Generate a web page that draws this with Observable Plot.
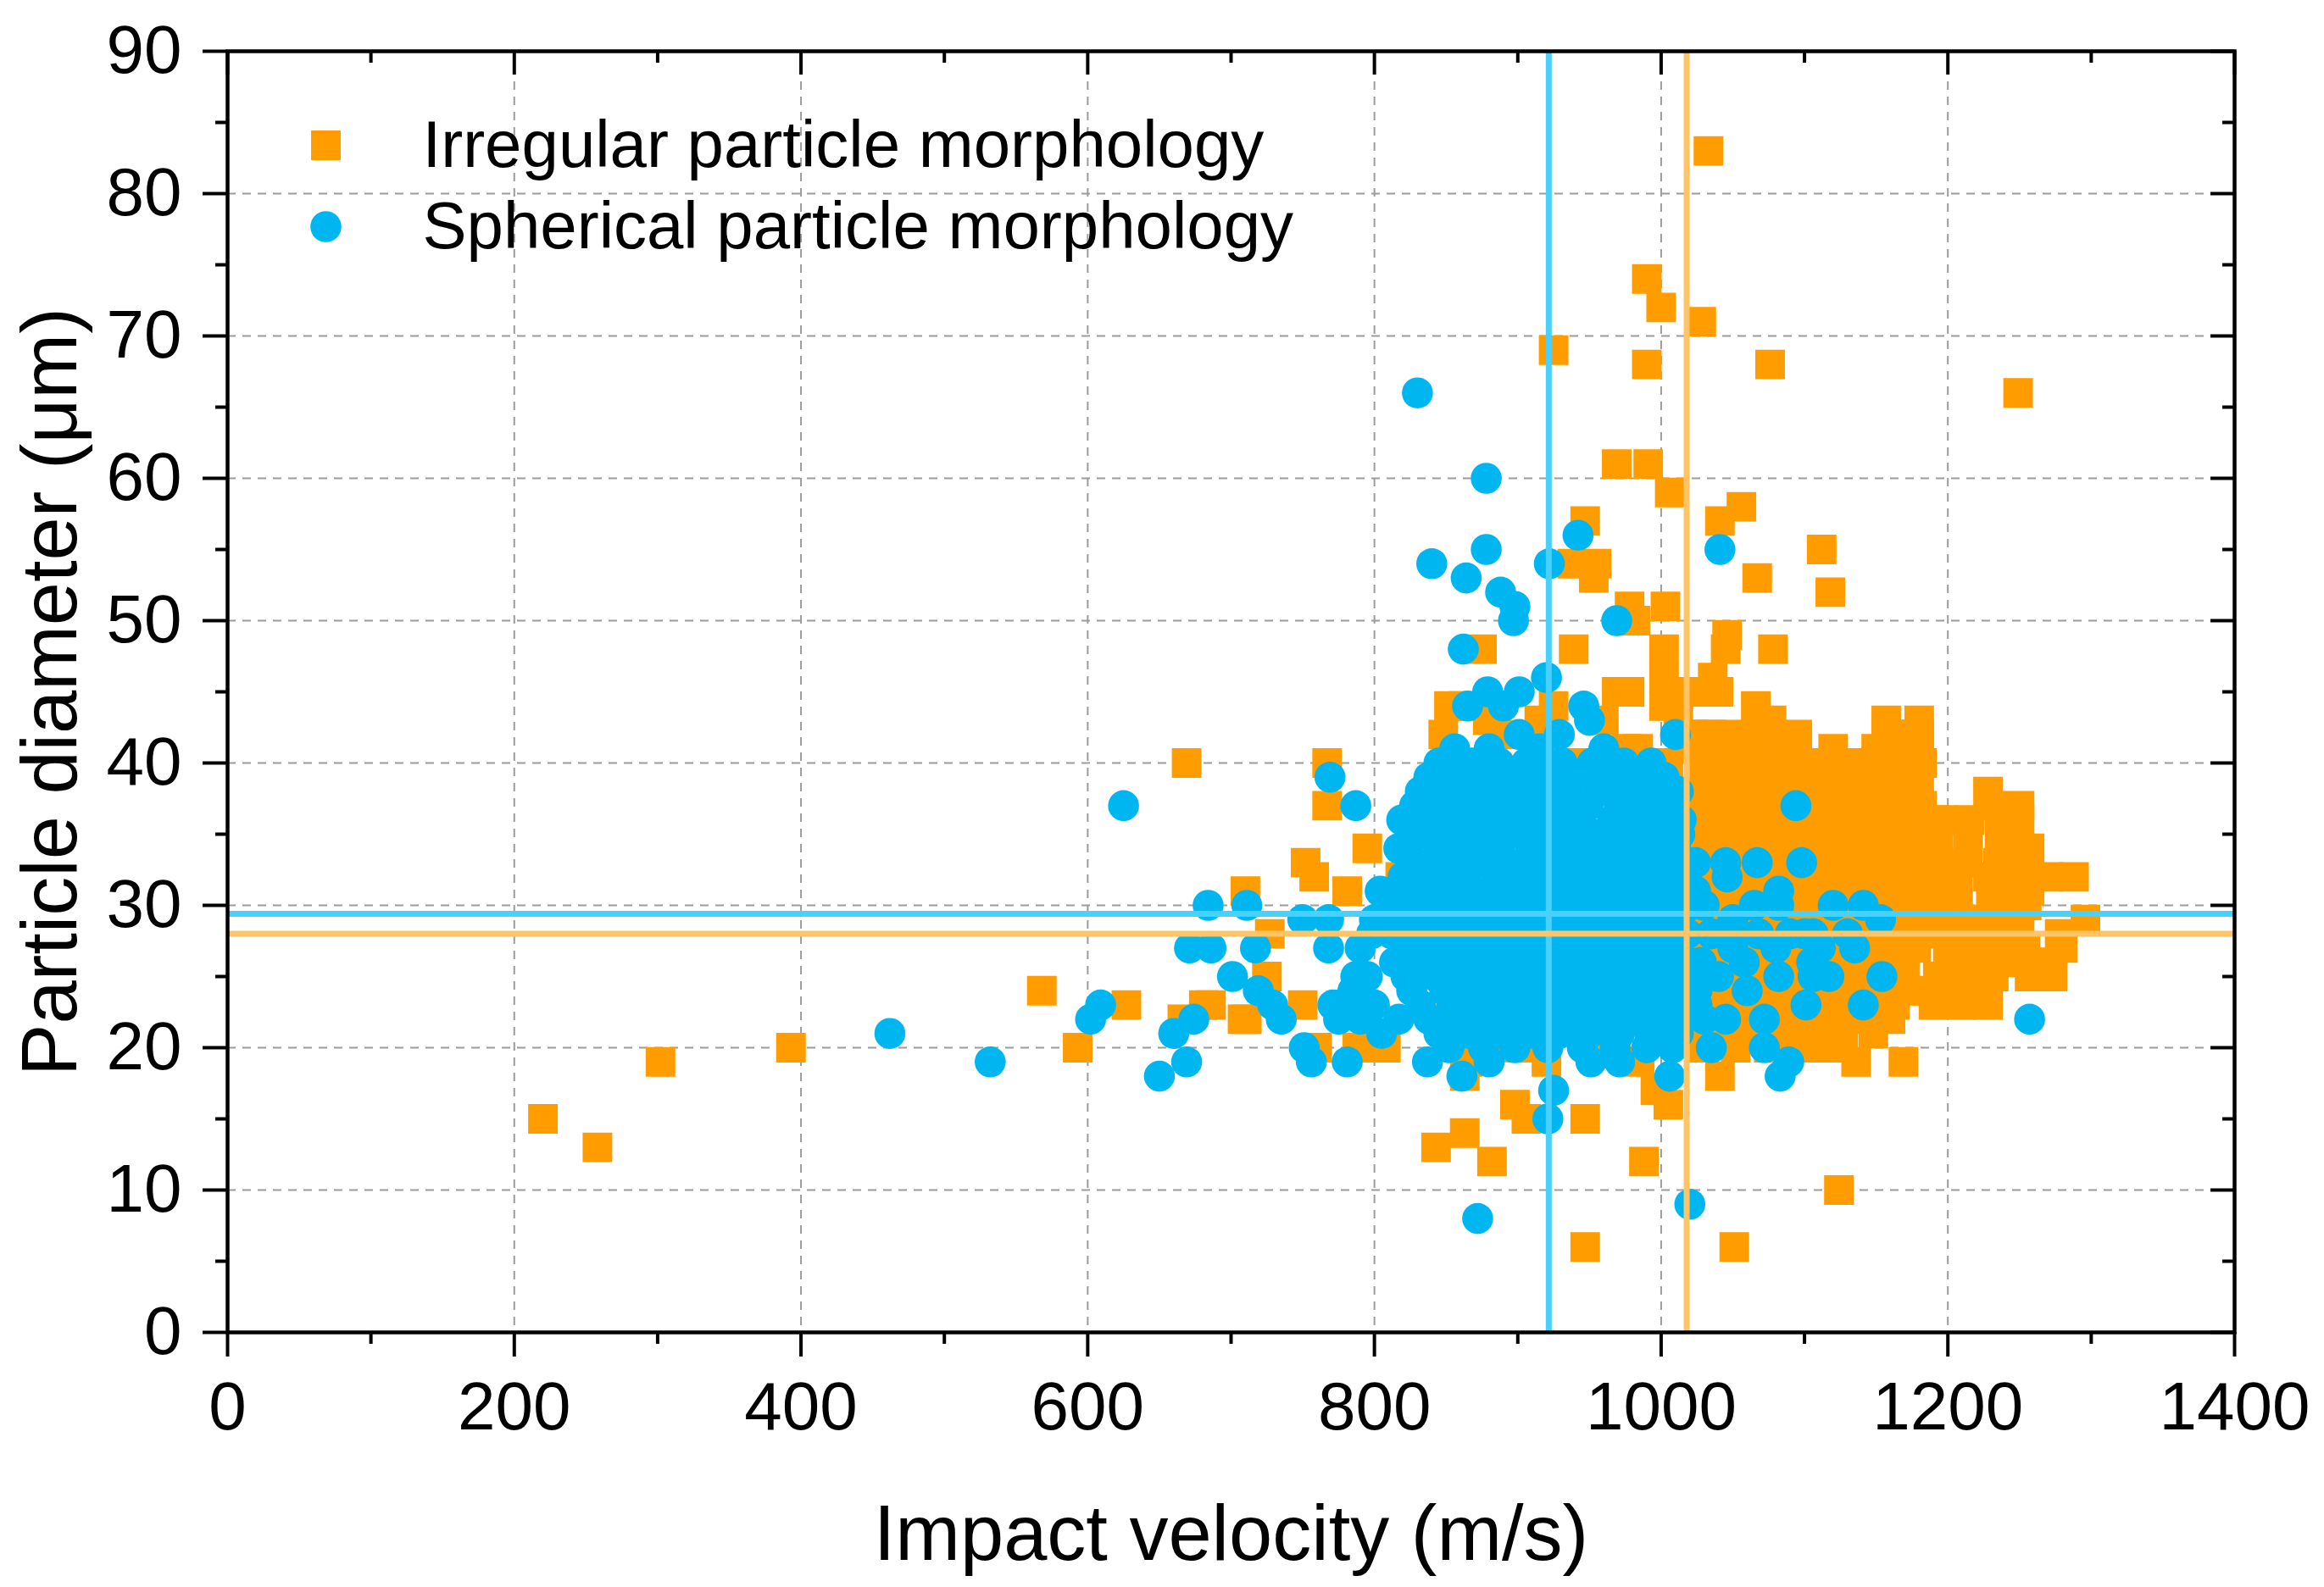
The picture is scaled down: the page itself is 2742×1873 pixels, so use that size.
<!DOCTYPE html>
<html><head><meta charset="utf-8">
<script src="https://cdn.jsdelivr.net/npm/d3@7"></script>
<script src="https://cdn.jsdelivr.net/npm/@observablehq/plot@0.6"></script>
<style>html,body{margin:0;padding:0;background:#fff;} svg{display:block}</style>
</head><body><div id="chart"></div>
<script>
// ---- tick values ----
const xTicks = [0, 200, 400, 600, 800, 1000, 1200, 1400];
const xMinor = [100, 300, 500, 700, 900, 1100, 1300];
const yTicks = [0, 10, 20, 30, 40, 50, 60, 70, 80, 90];
const yMinor = [5, 15, 25, 35, 45, 55, 65, 75, 85];

// ---- series names ----
const seriesNames = ["Irregular particle morphology", "Spherical particle morphology"];

// ---- mean lines ----
const meanVelocityIrregular = 1017.8;
const meanVelocitySpherical = 921.6;
const meanDiameterIrregular = 28.0;
const meanDiameterSpherical = 29.4;

// ---- Irregular particles [velocity m/s, diameter um] ----
const irregularLeft = [
  [220,15],[258,13],[302,19],[393,20],[568,24],[593,20],[627,23],[669,40],[666,22],[681,23],
  [686,23],[708,22],[710,31],[711,22],[725,25],[727,28],[752,33],[758,32],[767,40],[767,37],
  [750,23],[781,31],[795,34],[788,20],[760,20],[808,20],[818,32],[865,19]
];
const irregularLow = [
  [843,13],[863,14],[882,12],[898,16],[906,15],[947,15],[947,6],[988,12],[996,17],[1005,16],
  [1051,6],[1124,10],[1041,18],[1116,20],[1136,19],[1169,19],[1094,22],[1160,22],[863,18]
];
const irregularHigh = [
  [1033,83],[990,74],[1000,72],[1028,71],[925,69],[990,68],[1076,68],[1249,66],[969,61],[991,61],
  [1006,59],[1056,58],[1041,57],[947,57],[1112,55],[938,54],[955,54],[953,53],[1067,53],[1118,52],
  [978,51],[1003,51],[982,50],[1046,49],[875,48],[939,48],[1078,48],[1002,48],[1045,48],[1002,46],
  [1036,46],[969,45],[978,45],[1010,45],[1027,45],[1040,45],[1066,44],[852,44],[879,43],[925,44],
  [1068,43],[1077,43],[1157,43],[1180,43],[1035,42],[1078,42],[1095,42],[1157,42],[1167,41],[976,41],
  [984,41],[1067,41],[1093,41],[1159,41],[1135,40],[1180,39],[848,42],[1002,44],[1012,43],[1022,42],
  [1005,40],[1015,41]
];
const irregularRight = [
  [1228,38],[1230,37],[1250,37],[1196,36],[1215,36],[1250,36],[1193,35],[1214,35],[1236,35],[1193,34],
  [1214,34],[1238,34],[1257,34],[1192,33],[1212,33],[1235,33],[1257,33],[1205,32],[1228,32],[1252,32],
  [1270,32],[1288,32],[1207,31],[1236,31],[1257,31],[1207,30],[1230,30],[1255,30],[1220,29],[1240,29],
  [1296,29],[1205,28],[1228,28],[1250,28],[1278,28],[1212,27],[1235,27],[1254,27],[1280,27],[1200,26],
  [1222,26],[1246,26],[1268,26],[1193,25],[1212,25],[1232,25],[1257,25],[1273,25],[1185,24],[1205,24],
  [1228,24],[1190,23],[1210,23],[1228,23],[1191,36],[1181,40],[1165,39],[1176,37],[1150,36],[1134,39],
  [1150,41],[1160,42],[1127,40],[1117,37],[1109,39]
];
const irregularCore = [
  [1025,42],[1045,42],[1065,42],[1165,42],[1180,42],
  [1040,41],[1120,41],[1180,41],
  [1030,40],[1052,40],[1085,40],[1110,40],[1160,40],[1182,40],
  [1040,39],[1062,39],[1082,39],[1102,39],[1120,39],[1143,39],
  [1025,38],[1048,38],[1070,38],[1090,38],[1113,38],[1133,38],[1157,38],[1175,38],
  [1035,37],[1058,37],[1078,37],[1099,37],[1140,37],[1162,37],[1182,37],
  [1028,36],[1050,36],[1072,36],[1092,36],[1112,36],[1134,36],[1172,36],
  [1040,35],[1060,35],[1083,35],[1103,35],[1125,35],[1145,35],[1165,35],
  [1030,34],[1052,34],[1073,34],[1095,34],[1116,34],[1137,34],[1158,34],[1176,34],
  [1022,33],[1045,33],[1062,33],[1085,33],[1108,33],[1128,33],[1150,33],[1170,33],
  [1035,32],[1057,32],[1078,32],[1099,32],[1120,32],[1142,32],[1163,32],[1182,32],
  [1028,31],[1048,31],[1070,31],[1091,31],[1113,31],[1134,31],[1155,31],[1175,31],[1192,31],
  [1038,30],[1060,30],[1082,30],[1104,30],[1125,30],[1148,30],[1168,30],[1186,30],
  [1025,29],[1047,29],[1068,29],[1090,29],[1112,29],[1133,29],[1155,29],[1176,29],[1196,29],
  [1035,28],[1057,28],[1078,28],[1100,28],[1122,28],[1143,28],[1165,28],[1185,28],
  [1028,27],[1050,27],[1072,27],[1093,27],[1115,27],[1136,27],[1158,27],[1178,27],
  [1040,26],[1062,26],[1083,26],[1105,26],[1127,26],[1148,26],[1170,26],
  [1030,25],[1052,25],[1073,25],[1095,25],[1117,25],[1138,25],[1160,25],
  [1022,24],[1045,24],[1066,24],[1088,24],[1110,24],[1131,24],[1153,24],[1170,24],
  [1035,23],[1057,23],[1078,23],[1100,23],[1122,23],[1143,23],[1163,23],
  [1028,22],[1050,22],[1072,22],[1093,22],[1115,22],[1137,22],
  [1040,21],[1062,21],[1083,21],[1105,21],[1127,21],[1148,21],
  [1030,20],[1052,20],[1075,20],[1098,20]
];
const irregularHidden = [
  [880,30],[920,35],[960,25],[990,38],[850,22],[1000,28],[940,40],[900,20],[960,20],[985,19],
  [920,19],[880,20],[1000,21],[862,44],[890,42],[915,43],[960,43]
];

// ---- Spherical particles [velocity m/s, diameter um] ----
const sphericalLeft = [
  [462,21],[532,19],[602,22],[609,23],[625,37],[650,18],[660,21],[669,19],[671,27],[674,22],
  [684,30],[686,27],[701,25],[711,30],[717,27],[719,24],[729,23],[735,22],[750,29],[751,20],
  [756,19],[768,29],[768,27],[769,39],[787,37],[771,23],[776,23],[775,22],[781,19],[787,25],
  [800,29],[804,31],[817,34],[819,36],[817,22],[790,27],[795,25],[800,23],[785,24],[798,28],
  [790,22],[805,21]
];
const sphericalHigh = [
  [830,66],[840,54],[864,53],[878,60],[878,55],[888,52],[898,51],[897,50],[922,54],[942,56],
  [969,50],[1041,55],[862,48],[879,45],[901,45],[865,44],[890,44],[946,44],[950,43],[856,41],
  [901,42],[929,42],[1010,42],[920,46],[880,41],[960,41],[915,41]
];
const sphericalLow = [
  [837,19],[861,18],[880,19],[925,17],[921,15],[951,19],[971,19],[1006,18],[872,8],[1020,9]
];
const sphericalRight = [
  [1024,33],[1045,33],[1067,33],[1098,33],[1094,37],[1082,31],[1141,30],[1130,28],[1106,28],[1090,28],
  [1082,30],[1105,26],[1135,27],[1111,27],[1080,27],[1154,25],[1117,25],[1106,25],[1082,25],[1141,23],
  [1101,23],[1045,22],[1072,22],[1035,20],[1072,20],[1089,19],[1083,18],[1257,22],[1065,30],[1050,29],
  [1035,28],[1028,26],[1040,25],[1058,26],[1060,24],[1025,23],[1050,27],[1030,30],[1068,28],[1120,30],
  [1030,22],[1025,24],[1046,32],[1024,31],[1014,36],[1022,33],[1153,29],[1100,28]
];
const sphericalCore = [
  [845,40],[868,40],[887,40],[906,40],[931,40],[952,40],[974,40],[993,40],
  [838,39],[861,39],[879,39],[900,39],[920,39],[941,39],[963,39],[982,39],[1002,39],
  [832,38],[851,38],[873,38],[893,38],[914,38],[935,38],[957,38],[978,38],[997,38],[1012,38],
  [828,37],[847,37],[866,37],[887,37],[908,37],[929,37],[949,37],[971,37],[990,37],[1008,37],
  [824,36],[842,36],[861,36],[881,36],[903,36],[924,36],[944,36],[966,36],[985,36],[1004,36],
  [831,35],[852,35],[873,35],[894,35],[915,35],[937,35],[958,35],[979,35],[998,35],[1013,35],
  [822,34],[845,34],[866,34],[887,34],[909,34],[930,34],[951,34],[972,34],[993,34],[1010,34],
  [829,33],[850,33],[871,33],[893,33],[914,33],[935,33],[956,33],[977,33],[996,33],[1015,33],
  [820,32],[842,32],[863,32],[885,32],[906,32],[927,32],[948,32],[969,32],[990,32],[1008,32],
  [827,31],[848,31],[869,31],[890,31],[911,31],[933,31],[954,31],[975,31],[995,31],[1014,31],
  [816,30],[838,30],[859,30],[880,30],[902,30],[923,30],[944,30],[965,30],[986,30],[1005,30],[1020,30],
  [824,29],[845,29],[866,29],[887,29],[908,29],[929,29],[950,29],[971,29],[992,29],[1011,29],
  [812,28],[833,28],[854,28],[875,28],[896,28],[917,28],[938,28],[959,28],[980,28],[1001,28],[1018,28],
  [820,27],[841,27],[862,27],[883,27],[904,27],[925,27],[946,27],[967,27],[988,27],[1008,27],
  [814,26],[835,26],[856,26],[877,26],[898,26],[919,26],[940,26],[961,26],[982,26],[1003,26],[1019,26],
  [822,25],[843,25],[864,25],[885,25],[906,25],[927,25],[948,25],[969,25],[990,25],[1010,25],
  [826,24],[849,24],[870,24],[891,24],[912,24],[933,24],[954,24],[975,24],[996,24],[1015,24],
  [832,23],[854,23],[875,23],[896,23],[917,23],[938,23],[959,23],[980,23],[1001,23],[1016,23],
  [838,22],[859,22],[880,22],[901,22],[922,22],[943,22],[964,22],[985,22],[1006,22],
  [845,21],[866,21],[887,21],[908,21],[929,21],[950,21],[971,21],[992,21],[1012,21],
  [852,20],[876,20],[898,20],[921,20],[945,20],[968,20],[990,20],[1008,20]
];

// ---- colors ----
const colorIrregular = "#FF9C00";
const colorSpherical = "#00B6F0";
const lineIrregular = "#FFC466";
const lineSpherical = "#48D0FF";

const irregular = [].concat(irregularLeft, irregularLow, irregularHigh, irregularRight, irregularCore, irregularHidden);
const spherical = [].concat(sphericalLeft, sphericalHigh, sphericalLow, sphericalRight, sphericalCore);

const W = 2742, H = 1873, mL = 268, mR = 106, mT = 60, mB = 301;
const plotW = W - mL - mR, plotH = H - mT - mB;
const gridStyle = {stroke: "#9c9c9c", strokeOpacity: 1, strokeWidth: 2, strokeDasharray: "10,8"};

const chart = Plot.plot({
  width: W, height: H,
  marginLeft: mL, marginRight: mR, marginTop: mT, marginBottom: mB,
  x: {domain: [0, 1400], label: null},
  y: {domain: [0, 90], label: null},
  style: {fontFamily: "'Liberation Sans', Arial, sans-serif", background: "white", color: "black", overflow: "visible"},
  marks: [
    Plot.gridX(xTicks.slice(1, -1), gridStyle),
    Plot.gridY(yTicks.slice(1, -1), gridStyle),
    Plot.dot(irregular, {x: d => d[0], y: d => d[1], symbol: "square", r: 19.7, fill: colorIrregular}),
    Plot.dot(spherical, {x: d => d[0], y: d => d[1], symbol: "circle", r: 18.3, fill: colorSpherical}),
    Plot.ruleX([meanVelocitySpherical], {stroke: lineSpherical, strokeWidth: 7}),
    Plot.ruleY([meanDiameterSpherical], {stroke: lineSpherical, strokeWidth: 7}),
    Plot.ruleY([meanDiameterIrregular], {stroke: lineIrregular, strokeWidth: 7}),
    Plot.ruleX([meanVelocityIrregular], {stroke: lineIrregular, strokeWidth: 7}),
    // ticks: bottom/left outward, top/right inward
    Plot.ruleX(xTicks, {insetTop: plotH, insetBottom: -29, strokeWidth: 4}),
    Plot.ruleX(xMinor, {insetTop: plotH, insetBottom: -14, strokeWidth: 4}),
    Plot.ruleX(xTicks, {insetBottom: plotH - 28, strokeWidth: 4}),
    Plot.ruleX(xMinor, {insetBottom: plotH - 14, strokeWidth: 4}),
    Plot.ruleY(yTicks, {insetRight: plotW, insetLeft: -29, strokeWidth: 4}),
    Plot.ruleY(yMinor, {insetRight: plotW, insetLeft: -14, strokeWidth: 4}),
    Plot.ruleY(yTicks, {insetLeft: plotW - 28, strokeWidth: 4}),
    Plot.ruleY(yMinor, {insetLeft: plotW - 14, strokeWidth: 4}),
    Plot.frame({stroke: "black", strokeWidth: 4.5}),
    Plot.axisX(xTicks, {tickSize: 0, tickPadding: 58, fontSize: 80, tickFormat: "d", label: null}),
    Plot.axisY(yTicks, {tickSize: 0, tickPadding: 54, fontSize: 80, tickFormat: "d", label: null}),
    Plot.text(["Impact velocity (m/s)"], {frameAnchor: "bottom", textAnchor: "middle", lineAnchor: "middle", dy: 239, fontSize: 92, fill: "black"}),
    Plot.text(["Particle diameter (μm)"], {frameAnchor: "left", rotate: -90, textAnchor: "middle", lineAnchor: "middle", dx: -208, fontSize: 92, fill: "black"}),
    // legend
    Plot.dot([seriesNames[0]], {frameAnchor: "top-left", dx: 116, dy: 111, symbol: "square", r: 19.7, fill: colorIrregular}),
    Plot.dot([seriesNames[1]], {frameAnchor: "top-left", dx: 116, dy: 207, symbol: "circle", r: 18.3, fill: colorSpherical}),
    Plot.text([seriesNames[0]], {frameAnchor: "top-left", dx: 230, dy: 112, textAnchor: "start", lineAnchor: "middle", fontSize: 78, fill: "black"}),
    Plot.text([seriesNames[1]], {frameAnchor: "top-left", dx: 230, dy: 208, textAnchor: "start", lineAnchor: "middle", fontSize: 78, fill: "black"})
  ]
});
document.getElementById("chart").appendChild(chart);
</script>
</body></html>
